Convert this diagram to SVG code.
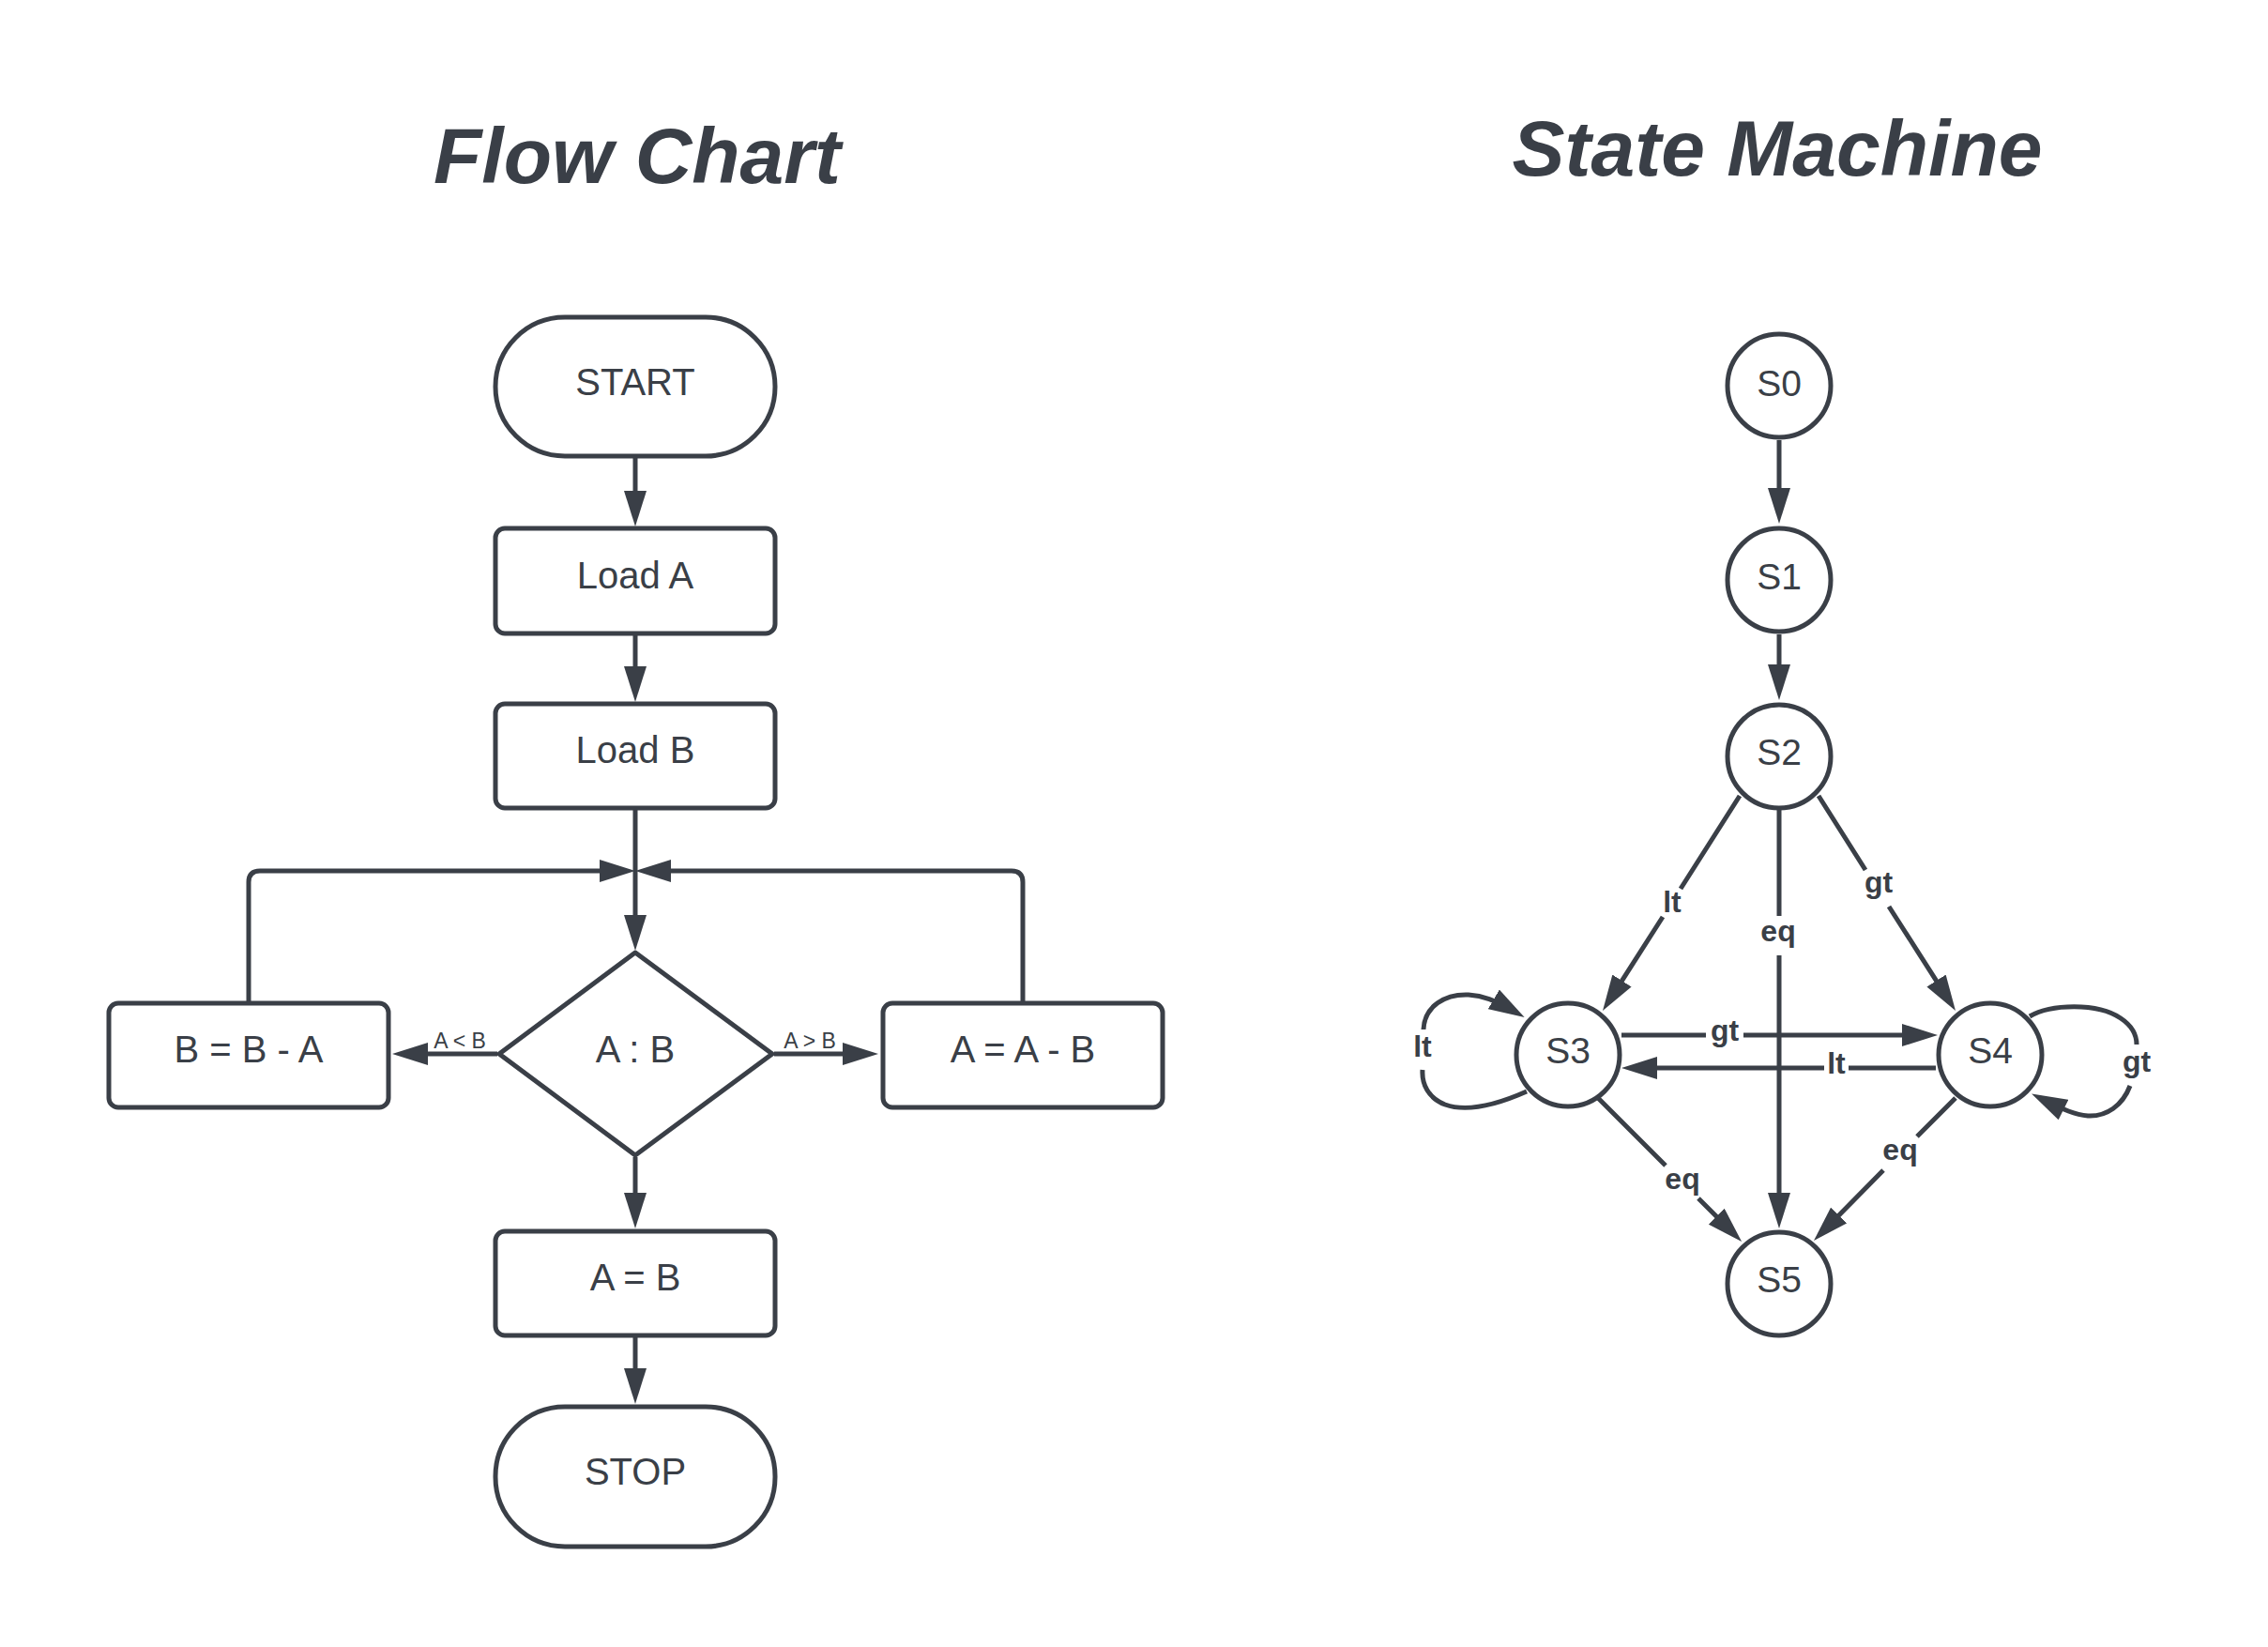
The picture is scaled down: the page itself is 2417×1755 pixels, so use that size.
<svg xmlns="http://www.w3.org/2000/svg" width="2417" height="1755" viewBox="0 0 2417 1755">
<style>
.sh{fill:#ffffff;stroke:#3a3f47;stroke-width:5;stroke-linejoin:round}
.ln{fill:none;stroke:#3a3f47;stroke-width:5;stroke-linejoin:round}
.t{font-family:"Liberation Sans",Arial,sans-serif;font-size:40px;fill:#3a3f47;text-anchor:middle}
.s{font-family:"Liberation Sans",Arial,sans-serif;font-size:39px;fill:#3a3f47;text-anchor:middle}
.el{font-family:"Liberation Sans",Arial,sans-serif;font-size:32px;font-weight:bold;fill:#3a3f47;text-anchor:middle}
.sm{font-family:"Liberation Sans",Arial,sans-serif;font-size:23px;fill:#3a3f47;text-anchor:middle}
.ti{font-family:"Liberation Sans",Arial,sans-serif;font-size:84px;font-weight:bold;font-style:italic;fill:#3a3f47;text-anchor:middle}
</style>
<defs>
<marker id="ah" markerUnits="userSpaceOnUse" markerWidth="38" markerHeight="24" viewBox="0 0 38 24" refX="28" refY="12" orient="auto">
<path d="M0,0 L38,12 L0,24 z" fill="#3a3f47"/>
</marker>
</defs>
<rect x="0" y="0" width="2417" height="1755" fill="#ffffff"/>
<text class="ti" x="679" y="195">Flow Chart</text>
<text class="ti" x="1894" y="187">State Machine</text>
<g id="connectors">
<path class="ln" marker-end="url(#ah)" d="M677,488 L677,551"/>
<path class="ln" marker-end="url(#ah)" d="M677,677 L677,738"/>
<path class="ln" marker-end="url(#ah)" d="M677,863 L677,1003"/>
<path class="ln" marker-end="url(#ah)" d="M265,1068 L265,940 Q265,928 277,928 L667,928"/>
<path class="ln" marker-end="url(#ah)" d="M1090,1068 L1090,940 Q1090,928 1078,928 L687,928"/>
<path class="ln" marker-end="url(#ah)" d="M530,1123 L428,1123"/>
<path class="ln" marker-end="url(#ah)" d="M825,1123 L926,1123"/>
<path class="ln" marker-end="url(#ah)" d="M677,1233 L677,1299"/>
<path class="ln" marker-end="url(#ah)" d="M677,1425 L677,1486"/>
<text class="sm" x="490" y="1117">A &lt; B</text>
<text class="sm" x="863" y="1117">A &gt; B</text>
<path class="ln" marker-end="url(#ah)" d="M1896,469 L1896,548"/>
<path class="ln" marker-end="url(#ah)" d="M1896,676 L1896,736"/>
<path class="ln" marker-end="url(#ah)" d="M1896,863 L1896,976 M1896,1018 L1896,1299"/>
<path class="ln" marker-end="url(#ah)" d="M1854,848 L1791,947 M1772,977 L1713.4,1068.6"/>
<path class="ln" marker-end="url(#ah)" d="M1938,848 L1988,927 M2013,966 L2078.6,1068.6"/>
<path class="ln" marker-end="url(#ah)" d="M1728,1103 L1818,1103 M1858,1103 L2055,1103"/>
<path class="ln" marker-end="url(#ah)" d="M2063,1138 L1970,1138 M1944,1138 L1738,1138"/>
<path class="ln" marker-end="url(#ah)" d="M1703,1170 L1775,1242 M1810,1277 L1849,1316"/>
<path class="ln" marker-end="url(#ah)" d="M2084,1170 L2043,1211 M2007,1247 L1940,1315"/>
<path class="ln" marker-end="url(#ah)" d="M1627,1163 C1600,1175 1565,1186 1540,1177 C1522,1170 1515,1155 1516,1140 M1517,1097 C1518,1072 1540,1059 1565,1060 C1580,1061 1592,1065 1616,1079"/>
<path class="ln" marker-end="url(#ah)" d="M2163,1083 C2185,1070 2235,1068 2260,1085 C2272,1093 2277,1103 2277,1113 M2270,1157 C2262,1178 2245,1190 2225,1189 C2212,1188 2200,1183 2174,1170"/>
<text class="el" x="1782" y="972">lt</text>
<text class="el" x="1895" y="1003">eq</text>
<text class="el" x="2002" y="951">gt</text>
<text class="el" x="1838" y="1109">gt</text>
<text class="el" x="1957" y="1144">lt</text>
<text class="el" x="1516" y="1126">lt</text>
<text class="el" x="2277" y="1142">gt</text>
<text class="el" x="1793" y="1267">eq</text>
<text class="el" x="2025" y="1236">eq</text>
</g>
<g id="start"><rect class="sh" x="528" y="338" width="298" height="148" rx="74"/><text class="t" x="677" y="421">START</text></g>
<g id="loadA"><rect class="sh" x="528" y="563" width="298" height="112" rx="10"/><text class="t" x="677" y="627">Load A</text></g>
<g id="loadB"><rect class="sh" x="528" y="750" width="298" height="111" rx="10"/><text class="t" x="677" y="813">Load B</text></g>
<g id="compare"><path class="sh" d="M677,1015 L823,1123 L677,1231 L532,1123 Z"/><text class="t" x="677" y="1132">A : B</text></g>
<g id="bMinusA"><rect class="sh" x="116" y="1069" width="298" height="111" rx="10"/><text class="t" x="265" y="1132">B = B - A</text></g>
<g id="aMinusB"><rect class="sh" x="941" y="1069" width="298" height="111" rx="10"/><text class="t" x="1090" y="1132">A = A - B</text></g>
<g id="aEqB"><rect class="sh" x="528" y="1312" width="298" height="111" rx="10"/><text class="t" x="677" y="1375">A = B</text></g>
<g id="stop"><rect class="sh" x="528" y="1499" width="298" height="149" rx="74"/><text class="t" x="677" y="1582">STOP</text></g>
<g id="S0"><circle class="sh" cx="1896" cy="411" r="55"/><text class="s" x="1896" y="422">S0</text></g>
<g id="S1"><circle class="sh" cx="1896" cy="618" r="55"/><text class="s" x="1896" y="628">S1</text></g>
<g id="S2"><circle class="sh" cx="1896" cy="806" r="55"/><text class="s" x="1896" y="815">S2</text></g>
<g id="S3"><circle class="sh" cx="1671" cy="1124" r="55"/><text class="s" x="1671" y="1133">S3</text></g>
<g id="S4"><circle class="sh" cx="2121" cy="1124" r="55"/><text class="s" x="2121" y="1133">S4</text></g>
<g id="S5"><circle class="sh" cx="1896" cy="1368" r="55"/><text class="s" x="1896" y="1377">S5</text></g>
</svg>
